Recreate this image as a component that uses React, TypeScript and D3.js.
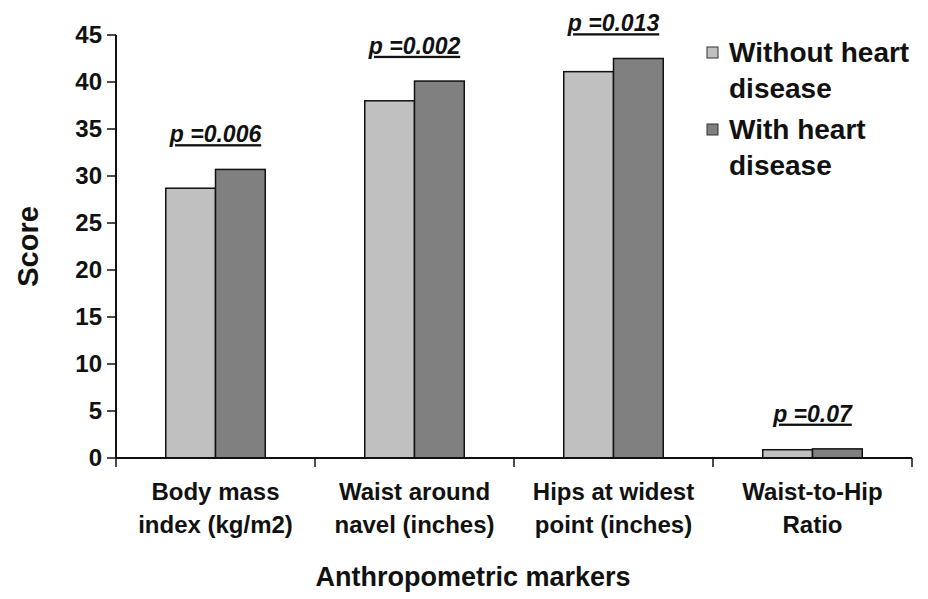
import React from "react";
import * as d3 from "d3";

// data
const categories = ["Body mass index (kg/m2)", "Waist around navel (inches)", "Hips at widest point (inches)", "Waist-to-Hip Ratio"];
const categoryLines = [["Body mass", "index (kg/m2)"], ["Waist around", "navel (inches)"], ["Hips at widest", "point (inches)"], ["Waist-to-Hip", "Ratio"]];
const seriesNames = ["Without heart disease", "With heart disease"];
const seriesLegendLines = [["Without heart", "disease"], ["With heart", "disease"]];
const withoutHD = [28.7, 38.0, 41.1, 0.88];
const withHD = [30.7, 40.1, 42.5, 0.97];
const pValues = ["p =0.006", "p =0.002", "p =0.013", "p =0.07"];
const yTicks = [0, 5, 10, 15, 20, 25, 30, 35, 40, 45];

const colors = ["#c0c0c0", "#808080"];
const font = "'Liberation Sans', Arial, sans-serif";

export default function App() {
  const width = 928, height = 599;
  const margin = { top: 35, right: 16, bottom: 141, left: 116 };

  const x = d3.scaleBand<string>()
    .domain(categories)
    .range([margin.left, width - margin.right])
    .padding(0);
  const xs = d3.scaleBand<string>()
    .domain(seriesNames)
    .range([0, x.bandwidth()])
    .paddingInner(0)
    .paddingOuter(1);
  const y = d3.scaleLinear()
    .domain([0, 45])
    .range([height - margin.bottom, margin.top]);

  const values = [withoutHD, withHD];
  const y0 = y(0);

  return (
    <svg width={width} height={height} style={{ position: "absolute", left: 0, top: 0, background: "#fff" }} fontFamily={font}>
      {/* bars */}
      {categories.map((c, i) => (
        <g key={c} transform={`translate(${x(c)},0)`}>
          {seriesNames.map((s, j) => (
            <rect key={s}
              x={xs(s)} y={y(values[j][i])}
              width={xs.bandwidth()} height={y0 - y(values[j][i])}
              fill={colors[j]} stroke="#111" strokeWidth={1.5} />
          ))}
        </g>
      ))}

      {/* p value labels */}
      {categories.map((c, i) => {
        const cx = (x(c) as number) + x.bandwidth() / 2;
        const ty = y(Math.max(withoutHD[i], withHD[i]) + 2.9);
        return (
          <text key={c} x={cx} y={ty} textAnchor="middle" fontSize={23} fontWeight="bold"
            fontStyle="italic" textDecoration="underline" fill="#111">{pValues[i]}</text>
        );
      })}

      {/* y axis */}
      <line x1={margin.left} x2={margin.left} y1={y(45)} y2={y0} stroke="#111" strokeWidth={2} />
      {yTicks.map(t => (
        <g key={t} transform={`translate(0,${y(t)})`}>
          <line x1={margin.left - 9} x2={margin.left} stroke="#111" strokeWidth={1.5} />
          <text x={margin.left - 14} dy="0.35em" textAnchor="end" fontSize={24} fontWeight="bold" fill="#111">{t}</text>
        </g>
      ))}

      {/* x axis */}
      <line x1={margin.left} x2={width - margin.right} y1={y0} y2={y0} stroke="#111" strokeWidth={2} />
      {[...categories.map(c => x(c) as number), width - margin.right].map((px, i) => (
        <line key={i} x1={px} x2={px} y1={y0} y2={y0 + 9} stroke="#111" strokeWidth={1.5} />
      ))}
      {categories.map((c, i) => (
        <text key={c} textAnchor="middle" fontSize={24} fontWeight="bold" fill="#111">
          {categoryLines[i].map((l, k) => (
            <tspan key={k} x={(x(c) as number) + x.bandwidth() / 2} y={y0 + 42 + k * 33}>{l}</tspan>
          ))}
        </text>
      ))}

      {/* axis titles */}
      <text transform={`translate(38,${(y(45) + y0) / 2}) rotate(-90)`} textAnchor="middle"
        fontSize={29} fontWeight="bold" fill="#111">Score</text>
      <text x={473} y={586} textAnchor="middle"
        fontSize={27} fontWeight="bold" fill="#111">Anthropometric markers</text>

      {/* legend */}
      {seriesNames.map((s, j) => (
        <g key={s} transform={`translate(707,${42 + j * 77})`}>
          <rect x={0} y={5} width={11} height={11} fill={colors[j]} stroke="#333" strokeWidth={1} />
          <text fontSize={28} fontWeight="bold" fill="#111">
            {seriesLegendLines[j].map((l, k) => (
              <tspan key={k} x={22} y={20 + k * 36}>{l}</tspan>
            ))}
          </text>
        </g>
      ))}
    </svg>
  );
}
